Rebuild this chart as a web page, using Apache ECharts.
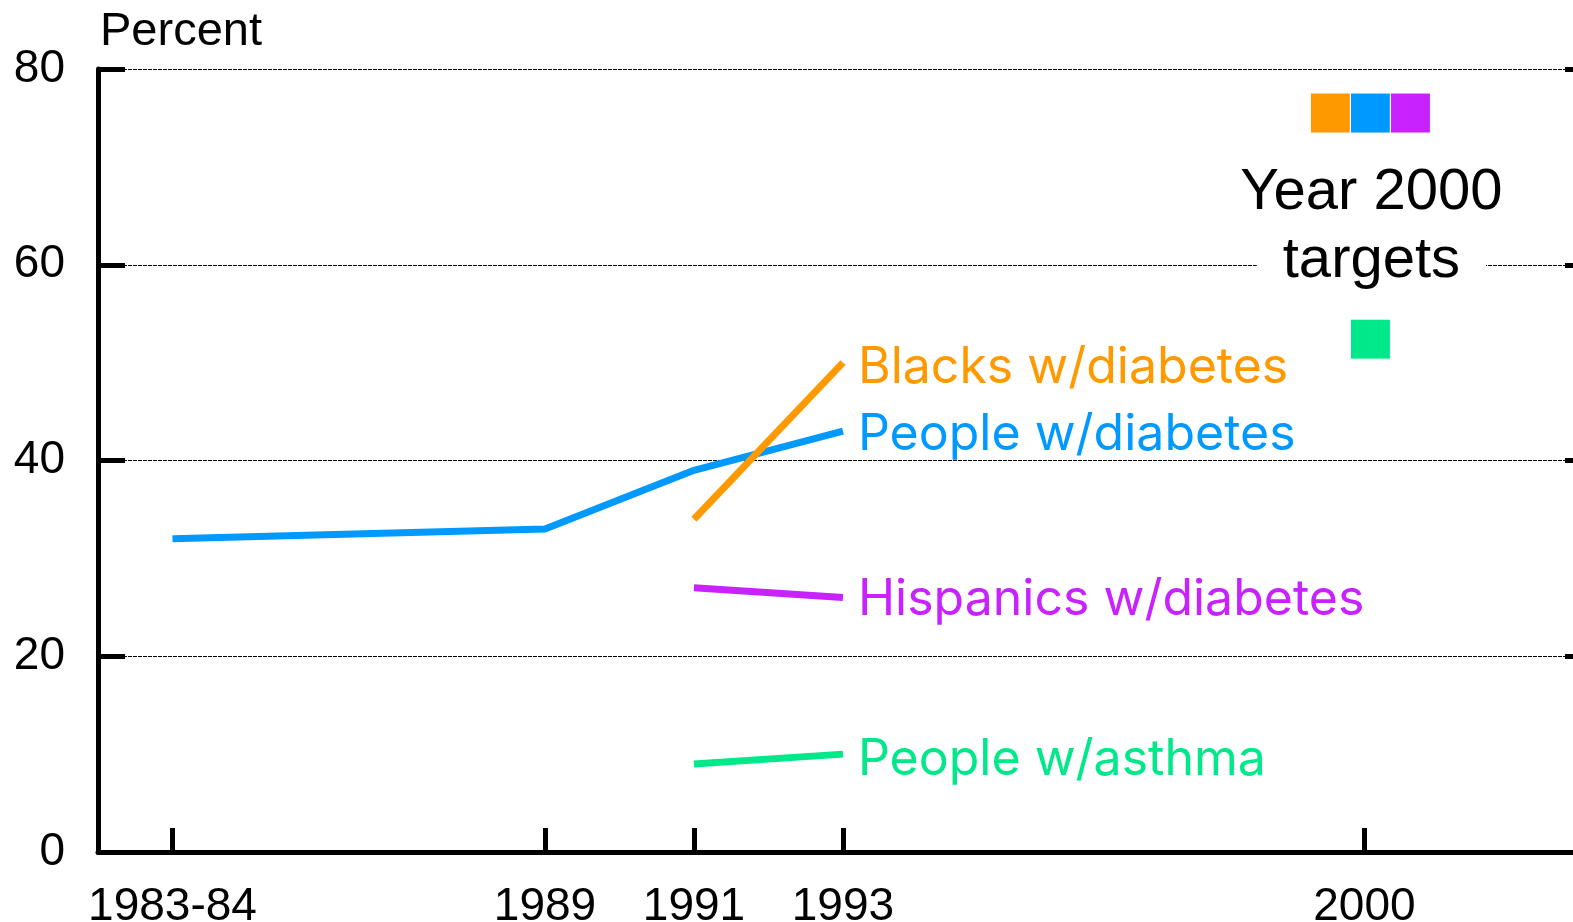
<!DOCTYPE html>
<html>
<head>
<meta charset="utf-8">
<script src="https://cdn.jsdelivr.net/npm/echarts@6/dist/echarts.min.js"></script>
<style>
html,body{margin:0;padding:0;background:#fff;}
#main{width:1573px;height:922px;}
</style>
</head>
<body>
<div id="main"></div>
<script>
// ---- data ----
const yearsAll = [1984, 1989, 1991, 1993];
const peopleDiabetes = [32, 33, 39, 43];
const years9193 = [1991, 1993];
const blacksDiabetes = [34, 50];
const hispanicsDiabetes = [27, 26];
const peopleAsthma = [9, 10];
const targetYear = 2000;
const diabetesTargets = [75.5, 75.5, 75.5]; // blacks, people, hispanics
const asthmaTarget = 52.4;
const xTickValues = [1984, 1989, 1991, 1993, 2000];
const xTickLabels = ['1983-84', '1989', '1991', '1993', '2000'];
const seriesNames = ['Blacks w/diabetes', 'People w/diabetes', 'Hispanics w/diabetes', 'People w/asthma'];
const colors = ['#FF9900', '#0099FF', '#C722FF', '#00E88A'];

const pairs = (xs, ys) => xs.map((x, i) => [x, ys[i]]);
const FONT = '"Liberation Sans", Arial, sans-serif';
const LFONT = 'Inter, "Liberation Sans", sans-serif';

function lineSeries(name, xs, ys, color, dy) {
  return {
    type: 'line', name: name, data: pairs(xs, ys), symbol: 'none',
    lineStyle: { color: color, width: 7 }, z: 3,
    endLabel: { show: true, formatter: name, color: color, fontSize: 50, fontFamily: LFONT, distance: 15, offset: [0, dy] }
  };
}

const chart = echarts.init(document.getElementById('main'));
chart.setOption({
  animation: false,
  backgroundColor: '#fff',
  grid: { left: 98, right: 0, top: 69, bottom: 70, containLabel: false, outerBoundsMode: 'none' },
  xAxis: {
    type: 'value', min: 1983, max: 2002.8,
    axisLine: { lineStyle: { color: '#000', width: 5 } },
    axisTick: { show: true, inside: true, length: 24, lineStyle: { color: '#000', width: 5 }, customValues: xTickValues },
    axisLabel: {
      customValues: xTickValues, margin: 32, color: '#000', fontSize: 46, fontFamily: FONT,
      formatter: v => xTickLabels[xTickValues.indexOf(v)]
    },
    splitLine: { show: false }
  },
  yAxis: [{
    type: 'value', min: 0, max: 80, interval: 20,
    name: 'Percent', nameLocation: 'end', nameGap: 13,
    nameTextStyle: { color: '#000', fontSize: 47, fontFamily: FONT, align: 'left', padding: [0, 0, 0, 2] },
    axisLine: { show: true, lineStyle: { color: '#000', width: 5 } },
    axisTick: { show: true, inside: true, length: 27, lineStyle: { color: '#000', width: 5 } },
    axisLabel: { margin: 33, color: '#000', fontSize: 46, fontFamily: FONT },
    splitLine: { show: true, lineStyle: { color: '#000', width: 1, type: [4, 1] } }
  }, {
    type: 'value', min: 0, max: 80, interval: 20, position: 'right',
    axisLine: { show: false },
    axisTick: { show: true, inside: true, length: 8, lineStyle: { color: '#000', width: 5 } },
    axisLabel: { show: false },
    splitLine: { show: false }
  }],
  series: [
    lineSeries(seriesNames[1], yearsAll, peopleDiabetes, colors[1], 4),
    lineSeries(seriesNames[0], years9193, blacksDiabetes, colors[0], 5),
    lineSeries(seriesNames[2], years9193, hispanicsDiabetes, colors[2], 2),
    lineSeries(seriesNames[3], years9193, peopleAsthma, colors[3], 6),
    {
      type: 'scatter', symbol: 'rect', symbolSize: 40, z: 4,
      itemStyle: { borderColor: '#fff', borderWidth: 1, opacity: 1 },
      data: [
        { value: [targetYear, diabetesTargets[0]], itemStyle: { color: colors[0] }, symbolOffset: [-34, 0] },
        { value: [targetYear, diabetesTargets[1]], itemStyle: { color: colors[1] }, symbolOffset: [6, 0] },
        { value: [targetYear, diabetesTargets[2]], itemStyle: { color: colors[2] }, symbolOffset: [46, 0] },
        { value: [targetYear, asthmaTarget], itemStyle: { color: colors[3] }, symbolOffset: [6, 0] }
      ]
    },
    {
      type: 'scatter', symbolSize: 0, z: 5, silent: true,
      data: [[targetYear, 63.9]],
      itemStyle: { color: 'rgba(0,0,0,0)', opacity: 1 },
      label: {
        show: true, position: 'inside', offset: [7, 0], color: '#000', textBorderWidth: 0, opacity: 1,
        formatter: '{a|Year 2000}\n{b|targets}',
        rich: {
          a: { fontSize: 58, lineHeight: 68, color: '#000', fontFamily: FONT, textBorderWidth: 0 },
          b: { fontSize: 58, lineHeight: 68, color: '#000', fontFamily: FONT, textBorderWidth: 0, backgroundColor: '#fff', padding: [0, 26] }
        }
      }
    }
  ]
});
</script>
</body>
</html>
